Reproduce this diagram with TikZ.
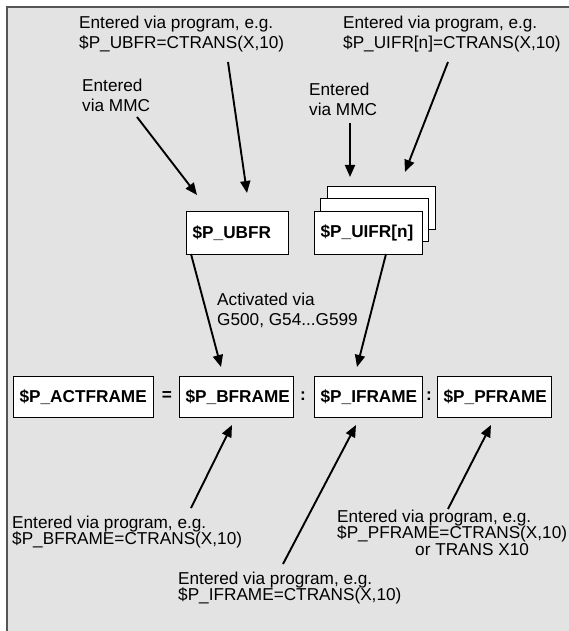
\documentclass[tikz,border=0pt]{standalone}
\usepackage{fontspec}
\setmainfont{Liberation Sans}
\usetikzlibrary{arrows.meta}
\definecolor{bg}{HTML}{E3E3E3}
\definecolor{frameline}{HTML}{555555}
\begin{document}
\begin{tikzpicture}[x=1pt,y=-1pt,
  lbl/.style={font=\fontsize{17.2}{20}\selectfont, align=left, inner sep=0pt, anchor=base west},
  lblb/.style={font=\fontsize{17.2}{16.5}\selectfont, align=left, inner sep=0pt, anchor=base west},
  fbox/.style={draw, line width=1.3pt, fill=white, font=\fontsize{17.2}{20}\selectfont\bfseries,
     inner xsep=6pt, inner ysep=0pt, anchor=north west, align=left},
  op/.style={font=\fontsize{17.2}{20}\selectfont\bfseries, inner sep=0pt},
  arr/.style={line width=1.9pt, -{Triangle[length=12pt,width=10pt]}}]
\useasboundingbox (0,0) rectangle (569,631);
\fill[bg] (7,7) rectangle (569,631);
\draw[frameline, line width=1.5pt] (7,631) -- (7,7) -- (569,7);

% top labels (anchor = baseline of last line)
\node[lbl] (t1) at (79,49) {Entered via program, e.g.\\\$P\_UBFR=CTRANS(X,10)};
\node[lbl] (t2) at (343,49) {Entered via program, e.g.\\\$P\_UIFR[n]=CTRANS(X,10)};
\node[lbl] (t3) at (82,112) {Entered\\via MMC};
\node[lbl] (t4) at (309,116) {Entered\\via MMC};
\node[lbl] (t5) at (217,325) {Activated via\\G500, G54...G599};

% upper boxes
\node[fbox, text width=90pt, minimum height=43pt] (ubfr) at (186,211) {\$P\_UBFR};
\node[fbox, minimum width=108pt, minimum height=43pt] (uifrb) at (327,186) {};
\node[fbox, minimum width=108pt, minimum height=43pt] (uifrm) at (320,198) {};
\node[fbox, text width=96pt, minimum height=43pt] (uifr) at (314,211) {\$P\_UIFR[n]};

% lower boxes
\node[fbox, text width=128pt, minimum height=41pt] (act) at (13,376) {\$P\_ACTFRAME};
\node[fbox, text width=102pt, minimum height=41pt] (bfr) at (179,376) {\$P\_BFRAME};
\node[fbox, text width=96pt, minimum height=41pt] (ifr) at (314,376) {\$P\_IFRAME};
\node[fbox, text width=102pt, minimum height=41pt] (pfr) at (437,376) {\$P\_PFRAME};
\node[op] (eq) at (167,396.5) {=};
\node[op] (c1) at (303,396.5) {:};
\node[op] (c2) at (429,396.5) {:};

% bottom labels (anchor = baseline of last line)
\node[lblb] (b1) at (12,544.5) {Entered via program, e.g.\\\$P\_BFRAME=CTRANS(X,10)};
\node[lblb] (b2) at (178,600.5) {Entered via program, e.g.\\\$P\_IFRAME=CTRANS(X,10)};
\node[lblb] (b3) at (337,555) {Entered via program, e.g.\\\$P\_PFRAME=CTRANS(X,10)\\\hspace*{78pt}or TRANS X10};

% arrow end points
\coordinate (a1s) at (137,117); \coordinate (a1e) at (197,195);
\coordinate (a2s) at (228,62);  \coordinate (a2e) at (247,193);
\coordinate (a3s) at (350,123); \coordinate (a3e) at (350,177);
\coordinate (a4s) at (448,62);  \coordinate (a4e) at (405,172);
\coordinate (a5s) at (191,254); \coordinate (a5e) at (221,367);
\coordinate (a6s) at (386,254); \coordinate (a6e) at (357,367);
\coordinate (a7s) at (191,508); \coordinate (a7e) at (232,425);
\coordinate (a8s) at (283,564); \coordinate (a8e) at (356,425);
\coordinate (a9s) at (448,509); \coordinate (a9e) at (491,425);

\draw[arr] (a1s) -- (a1e);
\draw[arr] (a2s) -- (a2e);
\draw[arr] (a3s) -- (a3e);
\draw[arr] (a4s) -- (a4e);
\draw[arr] (a5s) -- (a5e);
\draw[arr] (a6s) -- (a6e);
\draw[arr] (a7s) -- (a7e);
\draw[arr] (a8s) -- (a8e);
\draw[arr] (a9s) -- (a9e);
\end{tikzpicture}
\end{document}
